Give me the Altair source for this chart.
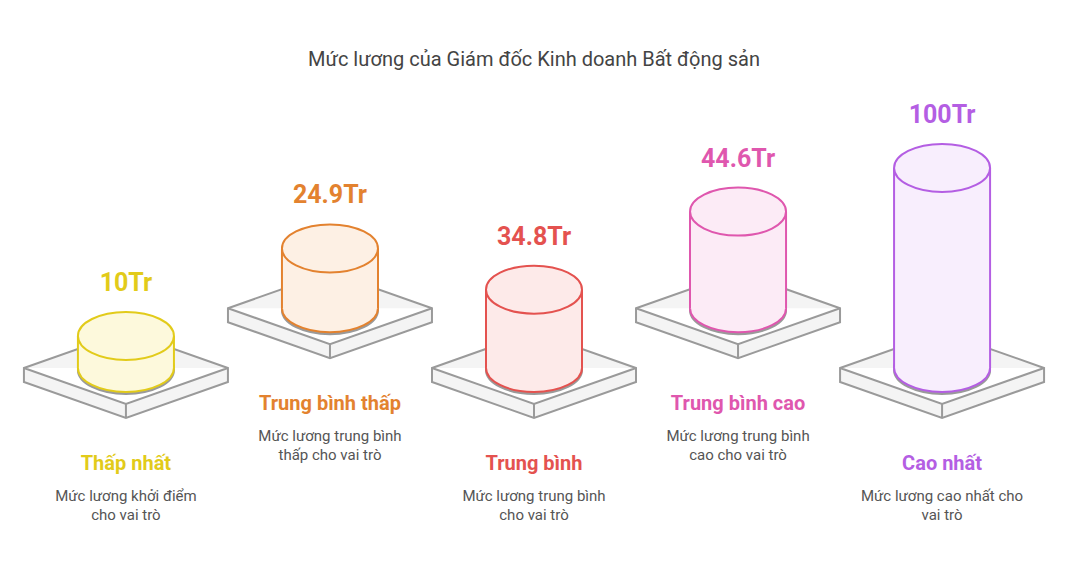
import altair as alt
import pandas as pd

# ---- data ----
categories = ["Thấp nhất", "Trung bình thấp", "Trung bình", "Trung bình cao", "Cao nhất"]
values = [10, 24.9, 34.8, 44.6, 100]
value_labels = ["10Tr", "24.9Tr", "34.8Tr", "44.6Tr", "100Tr"]
desc_line1 = ["Mức lương khởi điểm", "Mức lương trung bình", "Mức lương trung bình",
              "Mức lương trung bình", "Mức lương cao nhất cho"]
desc_line2 = ["cho vai trò", "thấp cho vai trò", "cho vai trò", "cao cho vai trò", "vai trò"]
stroke_colors = ["#E2CB1A", "#E3822F", "#E4524F", "#DF57AE", "#B45EE3"]
fill_colors = ["#FDF9DC", "#FDF0E4", "#FDEAE9", "#FCEBF6", "#F8EEFD"]
title_text = "Mức lương của Giám đốc Kinh doanh Bất động sản"

# ---- layout helpers (value units) ----
ROW_LIFT = 32.0      # upper-row platforms are lifted
MIN_STUB = 7.14      # visual minimum cylinder height
HALF_W = 48 / 204    # cylinder half width in category units

df = pd.DataFrame({
    "idx": list(range(len(categories))),
    "category": categories,
    "value": values,
    "label": value_labels,
    "d1": desc_line1,
    "d2": desc_line2,
    "stroke": stroke_colors,
    "fill": fill_colors,
})
df["base"] = (df["idx"] % 2) * ROW_LIFT
df["top"] = df["base"] + MIN_STUB + df["value"]
df["xl"] = df["idx"] - HALF_W
df["xr"] = df["idx"] + HALF_W

W, H = 1052, 556
xs = alt.Scale(domain=[-0.578, 4.578], nice=False, zero=False)
ys = alt.Scale(domain=[-105, 192.8], nice=False, zero=False)

X = alt.X("idx:Q", scale=xs, axis=None)
Yb = alt.Y("base:Q", scale=ys, axis=None)
Yt = alt.Y("top:Q", scale=ys, axis=None)

platform_path = ("M -1 0 L 0 -0.353 L 1 0 L 1 0.137 L 0 0.49 L -1 0.137 Z "
                 "M -1 0 L 0 0.353 L 1 0 M 0 0.353 L 0 0.49")
ellipse = ("M -1 0 C -1 -0.276 -0.552 -0.5 0 -0.5 C 0.552 -0.5 1 -0.276 1 0 "
           "C 1 0.276 0.552 0.5 0 0.5 C -0.552 0.5 -1 0.276 -1 0 Z")
ellipse_shadow = ("M -1 0.04 C -1 -0.236 -0.552 -0.46 0 -0.46 C 0.552 -0.46 1 -0.236 1 0.04 "
                  "C 1 0.316 0.552 0.54 0 0.54 C -0.552 0.54 -1 0.316 -1 0.04 Z")

base = alt.Chart(df)

platforms = base.mark_point(shape=platform_path, size=204 * 204, filled=True,
                            fill="#F4F4F4", stroke="#9A9A9A", strokeWidth=2,
                            opacity=1, fillOpacity=1, strokeJoin="miter").encode(x=X, y=Yb)

shadow = base.mark_point(shape=ellipse_shadow, size=96 * 96, filled=True,
                         fill="#A0A0A0", stroke="#9A9A9A", strokeWidth=2,
                         opacity=1, fillOpacity=1).encode(x=X, y=Yb)

bottom = base.mark_point(shape=ellipse, size=96 * 96, filled=True, strokeWidth=2,
                         opacity=1, fillOpacity=1).encode(
    x=X, y=Yb,
    fill=alt.Fill("fill:N", scale=None),
    stroke=alt.Stroke("stroke:N", scale=None))

body = base.mark_rect(opacity=1).encode(
    x=alt.X("xl:Q", scale=xs, axis=None), x2="xr:Q",
    y=Yb, y2="top:Q",
    fill=alt.Fill("fill:N", scale=None))

left_side = base.mark_rule(strokeWidth=2, opacity=1).encode(
    x=alt.X("xl:Q", scale=xs, axis=None), y=Yb, y2="top:Q",
    stroke=alt.Stroke("stroke:N", scale=None))
right_side = base.mark_rule(strokeWidth=2, opacity=1).encode(
    x=alt.X("xr:Q", scale=xs, axis=None), y=Yb, y2="top:Q",
    stroke=alt.Stroke("stroke:N", scale=None))

top = base.mark_point(shape=ellipse, size=96 * 96, filled=True, strokeWidth=2,
                      opacity=1, fillOpacity=1).encode(
    x=X, y=Yt,
    fill=alt.Fill("fill:N", scale=None),
    stroke=alt.Stroke("stroke:N", scale=None))

value_text = base.mark_text(font="Roboto", fontSize=25, fontWeight="bold",
                            baseline="middle", dy=-53).encode(
    x=X, y=Yt, text="label:N", color=alt.Color("stroke:N", scale=None))

cat_text = base.mark_text(font="Roboto", fontSize=20, fontWeight="bold",
                          baseline="middle", dy=96).encode(
    x=X, y=Yb, text="category:N", color=alt.Color("stroke:N", scale=None))

d1_text = base.mark_text(font="Roboto", fontSize=15, color="#555555",
                         baseline="middle", dy=128).encode(x=X, y=Yb, text="d1:N")
d2_text = base.mark_text(font="Roboto", fontSize=15, color="#555555",
                         baseline="middle", dy=147).encode(x=X, y=Yb, text="d2:N")

chart = alt.layer(platforms, shadow, bottom, body, left_side, right_side, top,
                  value_text, cat_text, d1_text, d2_text).properties(
    width=W, height=H,
    title=alt.TitleParams(title_text, anchor="middle", font="Roboto", fontSize=20,
                          fontWeight="normal", color="#444444", baseline="middle",
                          orient="top", offset=0, dy=72),
    padding=0,
    background="white",
    autosize=alt.AutoSizeParams(type="none"),
).configure_view(stroke="transparent", strokeWidth=0)

chart.save("out.html", embed_options={"renderer": "svg", "actions": False})
